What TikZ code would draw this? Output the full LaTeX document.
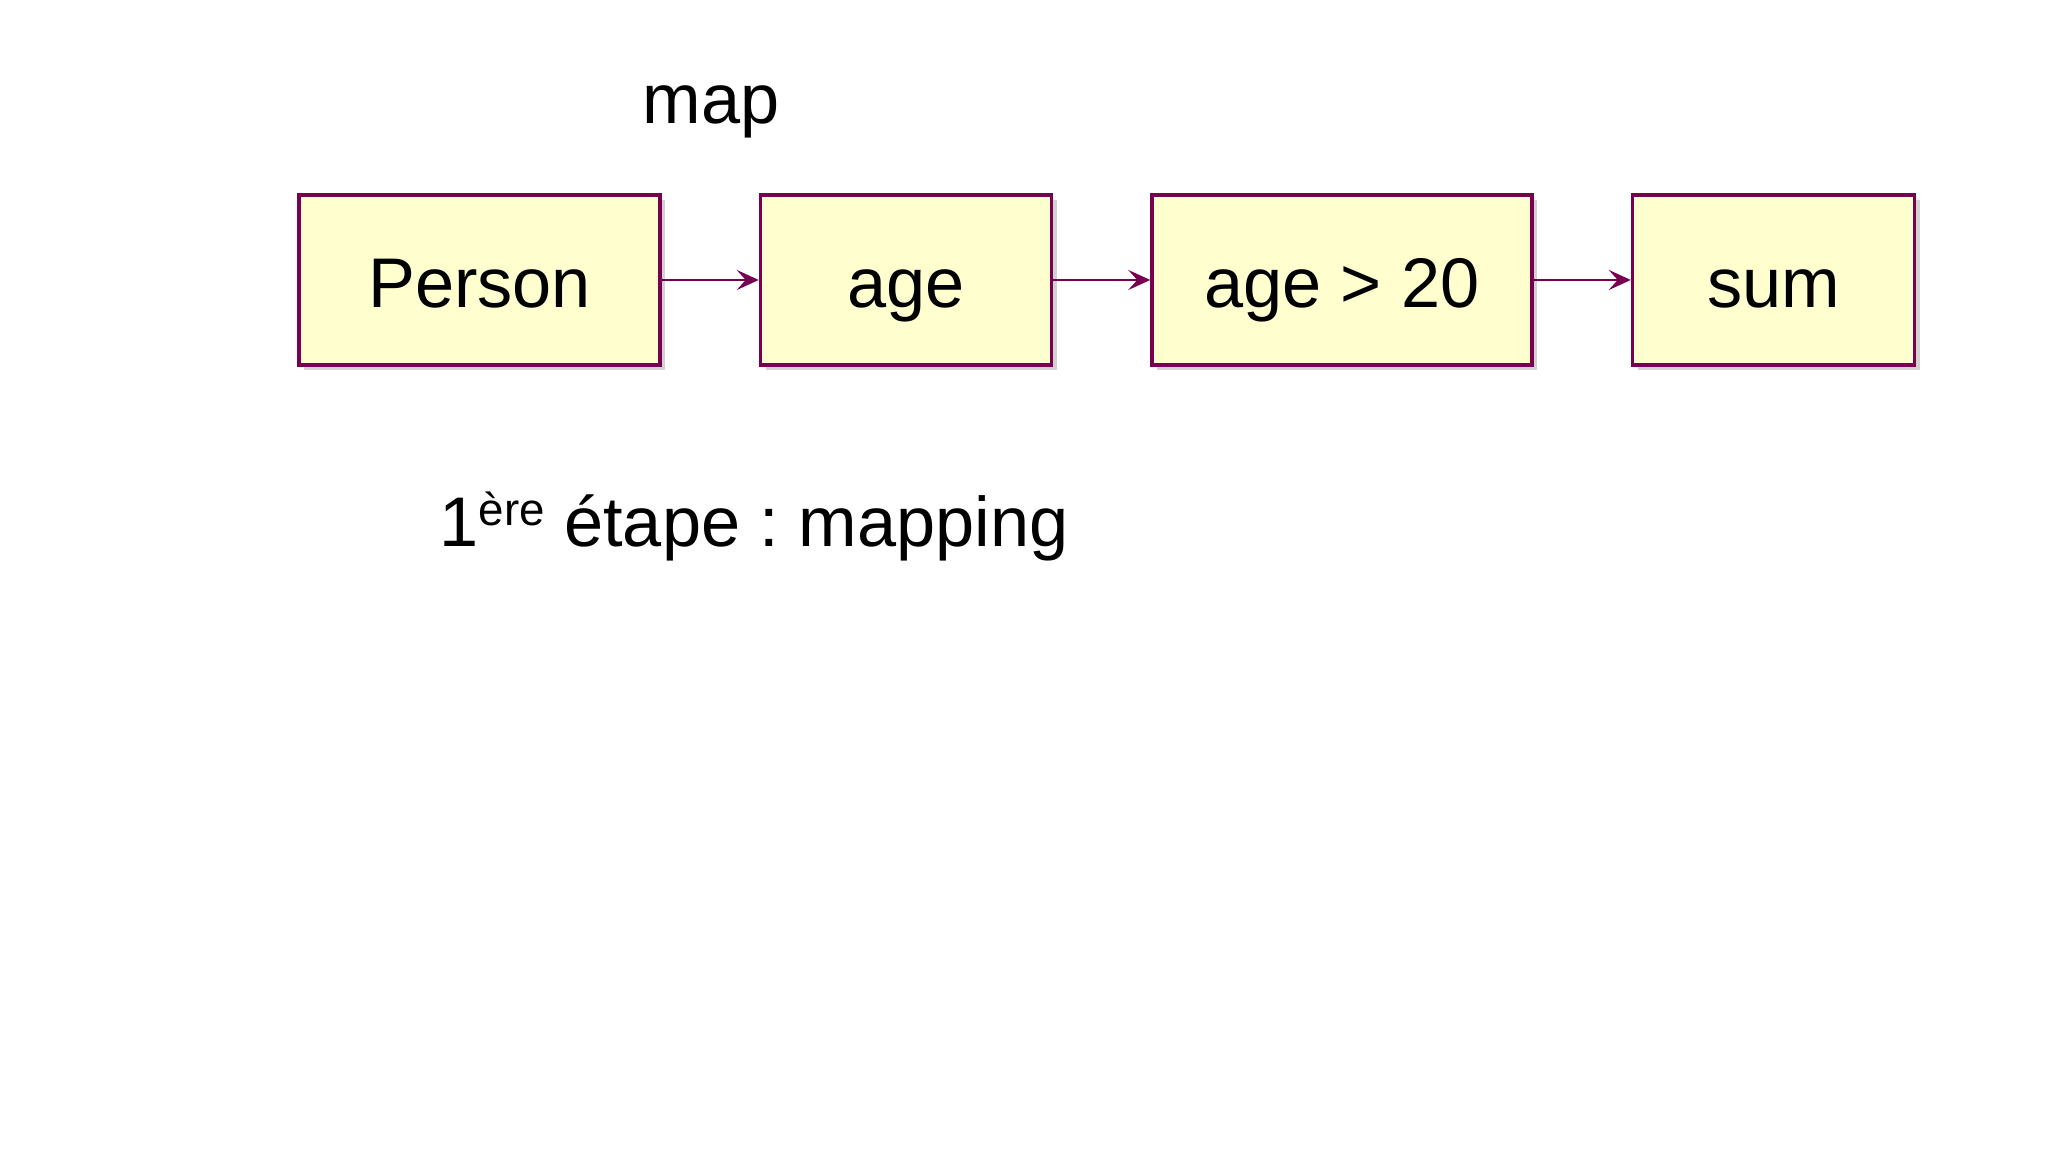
\documentclass[tikz,border=0pt]{standalone}
\usepackage{fontspec}
\setmainfont{Liberation Sans}
\usetikzlibrary{
    arrows.meta,
    positioning,
    shadows
}
\definecolor{boxborder}{RGB}{120,0,80}
\definecolor{boxfill}{RGB}{254,254,206}
\newcommand{\supsmall}[1]{\raisebox{0.3em}{\fontsize{13}{15}\selectfont #1}}
\tikzset{
    % Box styles
    field box/.style={
        draw=boxborder,
        fill=boxfill,
        line width=1pt,
        rectangle,
        minimum height=1.7cm,
        text height=0.7cm,
        text depth=0.14cm,
        align=center,
        font=\fontsize{20}{24}\selectfont,
        drop shadow={shadow xshift=0.05cm, shadow yshift=-0.05cm, opacity=0.35, fill=black!50}
    },
    % Arrow styles
    map arrow/.style={
        -{Stealth[length=2.2mm,width=2mm,inset=0.9mm]},
        line width=0.8pt,
        boxborder
    },
    % Text styles
    caption text/.style={
        font=\fontsize{20}{24}\selectfont,
        inner sep=0pt
    }
}
\frenchspacing

\begin{document}
\begin{tikzpicture}[node distance=0.97cm]
    \useasboundingbox[fill=white] (0,0) rectangle (20.48,11.52);
    \node[field box, minimum width=3.61cm] (person) at (4.795,8.72) {Person};
    \node[field box, minimum width=2.91cm, right=of person] (age) {age};
    \node[field box, minimum width=3.80cm, right=of age] (filter) {age > 20};
    \node[field box, minimum width=2.82cm, right=of filter] (sum) {sum};
    \draw[map arrow] (person) -- (age);
    \draw[map arrow] (age) -- (filter);
    \draw[map arrow] (filter) -- (sum);
    \node[caption text, anchor=base] (maplabel) at (7.11,10.28) {map};
    \node[caption text, anchor=base west] (steplabel) at (4.39,6.05) {1\supsmall{ère} étape : mapping};
\end{tikzpicture}
\end{document}
